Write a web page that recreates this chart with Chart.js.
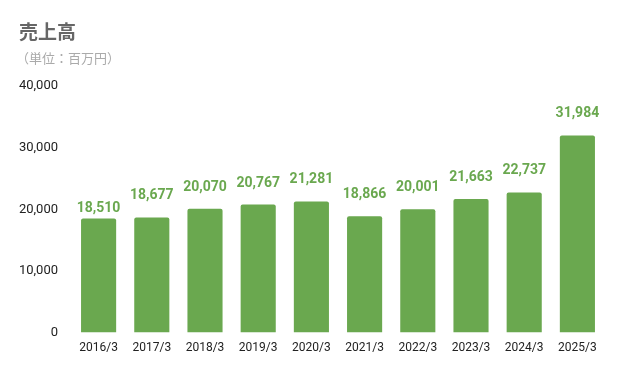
<!DOCTYPE html>
<html><head><meta charset="utf-8">
<script src="https://cdn.jsdelivr.net/npm/chart.js@4"></script>
<style>
html,body{margin:0;padding:0;background:#fff;}
#wrap{position:relative;width:631px;height:371px;}
#t1{position:absolute;left:19px;top:17px;font:bold 19px "Noto Sans CJK JP",sans-serif;color:#666;}
#t2{position:absolute;left:16px;top:48px;font:13px "Noto Sans CJK JP",sans-serif;color:#aaa;}
canvas{position:absolute;left:0;top:0;}
</style></head>
<body><div id="wrap"><canvas id="c" width="631" height="371"></canvas>
<div id="t1">売上高</div><div id="t2">（単位：百万円）</div></div>
<script>
const categories = ["2016/3","2017/3","2018/3","2019/3","2020/3","2021/3","2022/3","2023/3","2024/3","2025/3"];
const sales = [18510,18677,20070,20767,21281,18866,20001,21663,22737,31984];
const yTicks = [0,10000,20000,30000,40000];
const green = "#6aa84f";
const labelGap = [6,18,18,18,18,18,18,18,18,18];
const labelPlugin = {
  id:"vals",
  afterDatasetsDraw(chart){
    const ctx = chart.ctx;
    const meta = chart.getDatasetMeta(0);
    ctx.save();
    ctx.font = "bold 14px Roboto";
    ctx.fillStyle = green;
    ctx.textAlign = "center";
    ctx.textBaseline = "alphabetic";
    meta.data.forEach((bar,i)=>{
      ctx.fillText(sales[i].toLocaleString("en-US"), bar.x, bar.y - labelGap[i]);
    });
    ctx.restore();
  }
};
new Chart(document.getElementById("c"),{
  type:"bar",
  data:{labels:categories,datasets:[{data:sales,backgroundColor:green,borderRadius:2,borderSkipped:"bottom",barPercentage:0.66,categoryPercentage:1}]},
  options:{
    responsive:false,animation:false,
    layout:{padding:{left:0,right:27,top:86,bottom:16}},
    plugins:{legend:{display:false},tooltip:{enabled:false}},
    scales:{
      x:{grid:{display:false},border:{display:false},ticks:{color:"#222",font:{family:"Roboto",size:12},padding:0}},
      y:{min:0,max:40000,grid:{display:false},border:{display:false},
         afterBuildTicks(s){s.ticks=yTicks.map(v=>({value:v}));},
         afterFit(s){s.width=72;},
         ticks:{color:"#222",font:{family:"Roboto",size:13},padding:6,callback:v=>v.toLocaleString("en-US")}}
    }
  },
  plugins:[labelPlugin]
});
</script></body></html>
